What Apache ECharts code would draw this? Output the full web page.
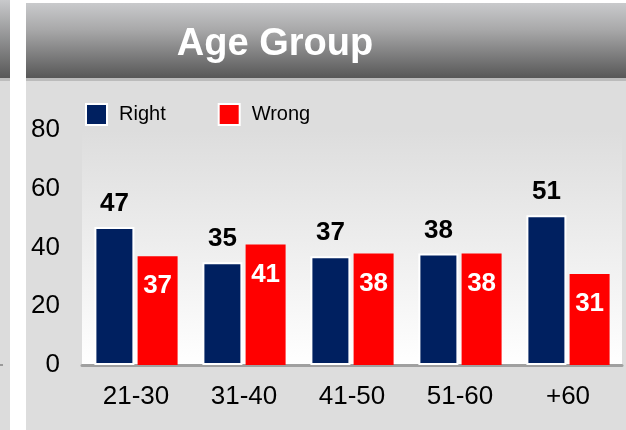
<!DOCTYPE html>
<html>
<head>
<meta charset="utf-8">
<script src="https://cdn.jsdelivr.net/npm/echarts@6/dist/echarts.min.js"></script>
<style>
  html, body { margin: 0; padding: 0; background: #ffffff; }
  #chart { width: 626px; height: 430px; }
</style>
</head>
<body>
<div id="chart"></div>
<script>
// 数据
const categories = ['21-30', '31-40', '41-50', '51-60', '+60'];
const rightValues = [47, 35, 37, 38, 51];
const wrongValues = [37, 41, 38, 38, 31];
const yMin = 0;
const yMax = 80;
const yStep = 20;

const font = '"Liberation Sans", Arial, sans-serif';

const option = {
    animation: false,
    backgroundColor: '#ffffff',
    // 标题
    title: {
        text: 'Age Group',
        left: 275,
        top: 26,
        textAlign: 'center',
        padding: 0,
        textStyle: {
            color: '#ffffff',
            fontSize: 38,
            fontWeight: 'bold',
            fontFamily: font
        }
    },
    // 背景面板
    graphic: [
        // 左侧残留面板
        { type: 'rect', z: -100, shape: { x: 0, y: 0, width: 10, height: 430 }, style: { fill: '#dcdcdc' } },
        {
            type: 'rect', z: -99, shape: { x: 0, y: 0, width: 10, height: 78 },
            style: {
                fill: new echarts.graphic.LinearGradient(0, 0, 0, 1, [
                    { offset: 0, color: '#c8c9cb' },
                    { offset: 1, color: '#585858' }
                ])
            }
        },
        { type: 'rect', z: -99, shape: { x: 0, y: 78, width: 10, height: 3 }, style: { fill: '#bdbdbd' } },
        { type: 'rect', z: -99, shape: { x: 0, y: 364, width: 3, height: 2 }, style: { fill: '#9a9a9a' } },
        // 主面板
        { type: 'rect', z: -100, shape: { x: 26, y: 3, width: 600, height: 427 }, style: { fill: '#dddddd' } },
        {
            type: 'rect', z: -99, shape: { x: 26, y: 3, width: 600, height: 75 },
            style: {
                fill: new echarts.graphic.LinearGradient(0, 0, 0, 1, [
                    { offset: 0, color: '#c9cacc' },
                    { offset: 0.35, color: '#a9a9aa' },
                    { offset: 1, color: '#575757' }
                ])
            }
        },
        { type: 'rect', z: -99, shape: { x: 26, y: 78, width: 600, height: 3 }, style: { fill: '#bbbbbb' } }
    ],
    color: ['#002060', '#ff0000'],
    grid: {
        show: true,
        left: 82,
        right: 4,
        top: 130,
        bottom: 65,
        borderWidth: 0,
        backgroundColor: new echarts.graphic.LinearGradient(0, 0, 0, 1, [
            { offset: 0, color: '#dddddd' },
            { offset: 1, color: '#ffffff' }
        ])
    },
    legend: {
        left: 85,
        top: 103,
        padding: 0,
        itemWidth: 21,
        itemHeight: 21,
        itemGap: 52,
        icon: 'rect',
        textStyle: {
            fontSize: 20,
            color: '#000000',
            fontFamily: font,
            padding: [0, 0, 0, 7]
        },
        itemStyle: { borderColor: '#ffffff', borderWidth: 2 },
        data: ['Right', 'Wrong']
    },
    xAxis: {
        type: 'category',
        data: categories,
        axisTick: { show: false },
        axisLine: { show: true, lineStyle: { color: '#a0a0a0', width: 3 } },
        axisLabel: {
            margin: 19,
            fontSize: 26,
            color: '#000000',
            fontFamily: font
        }
    },
    yAxis: {
        type: 'value',
        min: yMin,
        max: yMax,
        interval: yStep,
        axisLine: { show: false },
        axisTick: { show: false },
        splitLine: { show: false },
        axisLabel: {
            margin: 22,
            fontSize: 26,
            color: '#000000',
            fontFamily: font
        }
    },
    series: [
        {
            name: 'Right',
            type: 'bar',
            data: rightValues,
            barWidth: 40,
            barGap: '8%',
            itemStyle: { borderColor: '#ffffff', borderWidth: 2 },
            label: {
                show: true,
                position: 'top',
                distance: 10,
                fontSize: 26,
                fontWeight: 'bold',
                color: '#000000',
                fontFamily: font
            }
        },
        {
            name: 'Wrong',
            type: 'bar',
            data: wrongValues,
            barWidth: 40,
            label: {
                show: true,
                position: 'insideTop',
                distance: 17,
                fontSize: 26,
                fontWeight: 'bold',
                color: '#ffffff',
                fontFamily: font
            }
        }
    ]
};

const myChart = echarts.init(document.getElementById('chart'));
myChart.setOption(option);
</script>
</body>
</html>
